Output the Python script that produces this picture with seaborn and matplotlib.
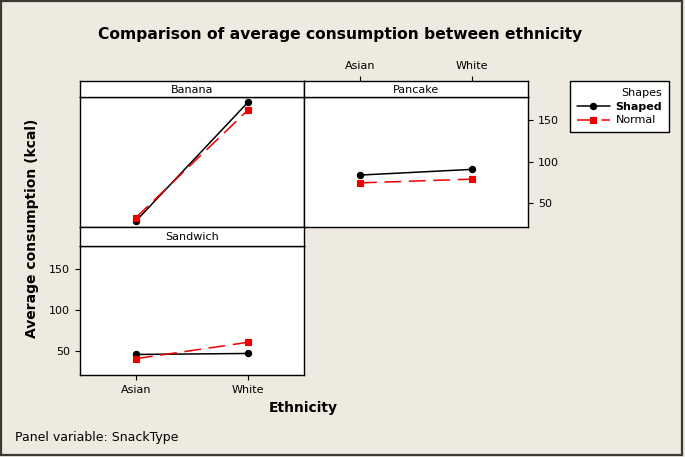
import matplotlib
matplotlib.use("Agg")
import matplotlib.pyplot as plt
import matplotlib.patches as mpatches
import pandas as pd
import seaborn as sns

# values
ethnicity = ["Asian", "White"]
shapes = ["Shaped", "Normal"]
snacks = ["Banana", "Pancake", "Sandwich"]
banana_shaped = [28.3, 171.7]
banana_normal = [32.4, 162.3]
pancake_shaped = [83.7, 90.6]
pancake_normal = [74.3, 78.8]
sandwich_shaped = [46.0, 47.2]
sandwich_normal = [40.9, 60.8]
y_ticks = [50, 100, 150]

series = {
    ("Banana", "Shaped"): banana_shaped,
    ("Banana", "Normal"): banana_normal,
    ("Pancake", "Shaped"): pancake_shaped,
    ("Pancake", "Normal"): pancake_normal,
    ("Sandwich", "Shaped"): sandwich_shaped,
    ("Sandwich", "Normal"): sandwich_normal,
}
rows = []
for (snack, shape), vals in series.items():
    for eth, v in zip(ethnicity, vals):
        rows.append({"SnackType": snack, "Shapes": shape, "Ethnicity": eth, "kcal": v})
df = pd.DataFrame(rows)

sns.set_style("white")
plt.rcParams["font.family"] = ["DejaVu Sans"]
plt.rcParams["text.color"] = "black"
plt.rcParams["xtick.color"] = "black"
plt.rcParams["ytick.color"] = "black"
bg = "#eeeae0"

fig = plt.figure(figsize=(6.85, 4.57), dpi=100, facecolor=bg)
W, H = 685, 457


def box(x0, y0, x1, y1):
    # pixel box (top-left origin) -> figure rect
    return [x0 / W, 1 - y1 / H, (x1 - x0) / W, (y1 - y0) / H]


panels = {
    "Banana": box(80, 97, 304, 227),
    "Pancake": box(304, 97, 528, 227),
    "Sandwich": box(80, 246, 304, 375),
}
strips = {
    "Banana": box(80, 80.5, 304, 97),
    "Pancake": box(304, 80.5, 528, 97),
    "Sandwich": box(80, 227, 304, 246),
}

handles = labels = None
for snack in snacks:
    ax = fig.add_axes(panels[snack])
    ax.set_facecolor("white")
    sub = df[df["SnackType"] == snack]
    sns.pointplot(data=sub, x="Ethnicity", y="kcal", hue="Shapes",
                  order=ethnicity, hue_order=shapes,
                  palette=["black", "#ee0000"], markers=["o", "s"],
                  linestyles=["-", (0, (11, 5))], markersize=4.5,
                  linewidth=1.1, errorbar=None, ax=ax)
    if handles is None:
        handles, labels = ax.get_legend_handles_labels()
    if ax.get_legend() is not None:
        ax.get_legend().remove()
    ax.set_xlim(-0.5, 1.5)
    ax.set_ylim(21, 178)
    ax.set_xlabel("")
    ax.set_ylabel("")
    for sp in ax.spines.values():
        sp.set_color("black")
        sp.set_linewidth(1)
    ax.tick_params(labelsize=8, length=3.5, width=0.8, direction="out", colors="black")

    if snack == "Banana":
        ax.set_xticks([])
        ax.set_yticks([])
    elif snack == "Pancake":
        ax.set_xticks([])
        ax.set_yticks(y_ticks)
        ax.yaxis.tick_right()
        ax.tick_params(axis="y", left=False, right=True, labelleft=False, labelright=True)
    else:
        ax.set_xticks([0, 1])
        ax.set_xticklabels(ethnicity)
        ax.set_yticks(y_ticks)
        ax.tick_params(axis="x", bottom=True)
        ax.tick_params(axis="y", left=True)

    st = fig.add_axes(strips[snack])
    st.set_facecolor("white")
    st.set_xlim(-0.5, 1.5)
    st.set_yticks([])
    for sp in st.spines.values():
        sp.set_color("black")
        sp.set_linewidth(1)
    st.text(0.5, 0.45, snack, transform=st.transAxes, ha="center", va="center", fontsize=8)
    if snack == "Pancake":
        st.set_xticks([0, 1])
        st.set_xticklabels(ethnicity)
        st.tick_params(axis="x", top=True, bottom=False, labeltop=True, labelbottom=False,
                       labelsize=8, length=3.5, width=0.8, direction="out", colors="black")
    else:
        st.set_xticks([])

leg = fig.legend(handles, labels, title="Shapes", loc="upper left",
                 bbox_to_anchor=(570 / W, 1 - 81 / H), borderaxespad=0,
                 fontsize=8, title_fontsize=8,
                 frameon=True, fancybox=False, edgecolor="black", facecolor="white",
                 framealpha=1, alignment="right", handlelength=3.0, handletextpad=0.5,
                 borderpad=0.6, labelspacing=0.35)
leg.get_frame().set_linewidth(1)
leg.get_texts()[0].set_fontweight("bold")

fig.text(340 / W, 1 - 35 / H, "Comparison of average consumption between ethnicity",
         ha="center", va="center", fontsize=11.2, fontweight="bold")
fig.text(32 / W, 1 - 228 / H, "Average consumption (kcal)", rotation=90,
         ha="center", va="center", fontsize=10, fontweight="bold")
fig.text(303 / W, 1 - 408 / H, "Ethnicity", ha="center", va="center",
         fontsize=10, fontweight="bold")
fig.text(15 / W, 1 - 437 / H, "Panel variable: SnackType", ha="left", va="center", fontsize=9)

fig.patches.append(mpatches.Rectangle((0.002, 0.004), 0.994, 0.993, transform=fig.transFigure,
                                      fill=False, edgecolor="#3a3a34", linewidth=1.6))

fig.savefig("out.png", dpi=100, facecolor=bg)
